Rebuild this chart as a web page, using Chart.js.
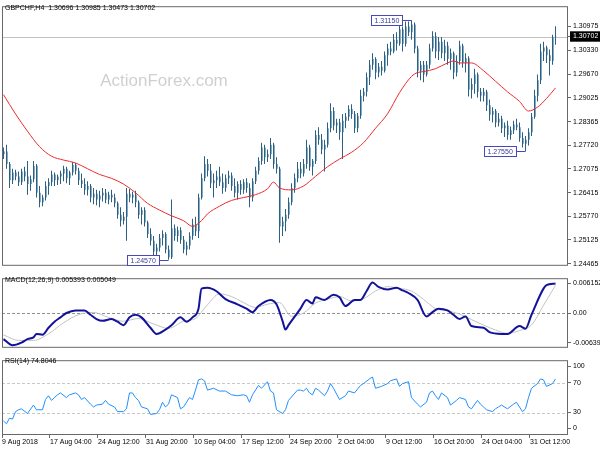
<!DOCTYPE html>
<html><head><meta charset="utf-8">
<script src="https://cdn.jsdelivr.net/npm/chart.js@4.4.1/dist/chart.umd.min.js"></script>
<style>
html,body{margin:0;padding:0;background:#fff;}
#wrap{position:relative;width:600px;height:450px;overflow:hidden;background:#fff;}
canvas{position:absolute;left:0;}
</style></head><body>
<div id="wrap">
<canvas id="cMain" width="600" height="272" style="top:0px"></canvas>
<canvas id="cMacd" width="600" height="82" style="top:272px"></canvas>
<canvas id="cRsi" width="600" height="96" style="top:354px"></canvas>
</div>
<script>
// ---------------- DATA ----------------
const symbol = 'GBPCHF,H4';
const watermark = 'ActionForex.com';
const dateLabels = ['9 Aug 2018','17 Aug 04:00','24 Aug 12:00','31 Aug 20:00','10 Sep 04:00','17 Sep 12:00','24 Sep 20:00','2 Oct 04:00','9 Oct 12:00','16 Oct 20:00','24 Oct 04:00','31 Oct 12:00'];
const barsPerLabel = 16;

const opens = [1.27468,1.27547,1.27204,1.26755,1.26966,1.26861,1.26702,1.26993,1.26861,1.26650,
1.26782,1.27151,1.26412,1.26148,1.26280,1.26597,1.26702,1.26914,1.26755,1.26861,
1.26940,1.27072,1.26808,1.26966,1.27178,1.27019,1.26755,1.26650,1.26491,1.26597,
1.26280,1.26386,1.26227,1.26333,1.26412,1.26227,1.26359,1.26280,1.26122,1.25805,
1.25646,1.25752,1.26386,1.26280,1.26359,1.26148,1.25805,1.25937,1.25594,1.25277,
1.25092,1.24802,1.24907,1.25171,1.25277,1.24854,1.24643,1.25435,1.25224,1.25382,
1.25118,1.24854,1.24960,1.25224,1.25541,1.25356,1.26280,1.26808,1.27204,1.27019,
1.26676,1.26755,1.26861,1.26702,1.26544,1.26808,1.26887,1.26597,1.26412,1.26650,
1.26491,1.26702,1.26544,1.26280,1.26729,1.27019,1.27283,1.27653,1.27389,1.27468,
1.27732,1.27204,1.27072,1.25488,1.25620,1.25805,1.26148,1.26544,1.26808,1.27072,
1.26940,1.27204,1.27653,1.27125,1.27283,1.27996,1.27864,1.27600,1.27732,1.28181,
1.28656,1.28260,1.28339,1.28075,1.28392,1.28498,1.28709,1.28577,1.28181,1.28524,
1.29078,1.29184,1.29580,1.29923,1.30082,1.29712,1.29870,1.29765,1.30187,1.30372,
1.30293,1.30610,1.30504,1.30900,1.30504,1.30979,1.30821,1.31032,1.30372,1.29765,
1.29923,1.29659,1.29923,1.30372,1.30715,1.30293,1.30557,1.30240,1.30451,1.30082,
1.30240,1.29712,1.30029,1.30451,1.29976,1.30108,1.29237,1.29395,1.29659,1.29184,
1.29078,1.29184,1.28814,1.28551,1.28656,1.28339,1.28445,1.28181,1.28260,1.27996,
1.28128,1.28286,1.28207,1.27917,1.27758,1.27864,1.28075,1.28498,1.29078,1.29501,
1.30293,1.30398,1.30187,1.30029,1.30696];

const highs = [1.27653,1.27732,1.27257,1.27072,1.27046,1.26993,1.27072,1.27125,1.27283,1.26887,
1.27283,1.27204,1.26597,1.26359,1.26729,1.26808,1.27019,1.26966,1.26914,1.27019,
1.27151,1.27125,1.27019,1.27257,1.27230,1.27098,1.26940,1.26808,1.26729,1.26650,
1.26544,1.26491,1.26465,1.26544,1.26518,1.26438,1.26491,1.26386,1.26174,1.26016,
1.25884,1.26544,1.26518,1.26438,1.26465,1.26201,1.26016,1.26016,1.25646,1.25435,
1.25224,1.25013,1.25277,1.25382,1.25330,1.24960,1.26227,1.25541,1.25488,1.25462,
1.25224,1.25066,1.25330,1.25699,1.25752,1.26386,1.26940,1.27415,1.27336,1.27204,
1.26940,1.27019,1.27125,1.26940,1.26914,1.27019,1.26966,1.26808,1.26729,1.26755,
1.26782,1.26808,1.26676,1.26808,1.27125,1.27389,1.27785,1.27732,1.27600,1.27917,
1.27785,1.27389,1.27125,1.25752,1.25963,1.26280,1.26676,1.26940,1.27257,1.27257,
1.27336,1.27864,1.27732,1.27336,1.28128,1.28207,1.28022,1.27864,1.28339,1.28867,
1.28762,1.28445,1.28445,1.28577,1.28603,1.28814,1.28841,1.28656,1.28603,1.29237,
1.29290,1.29712,1.30055,1.30240,1.30134,1.29976,1.30029,1.30293,1.30504,1.30557,
1.30768,1.30821,1.31032,1.30979,1.31111,1.31111,1.31150,1.31085,1.30451,1.30029,
1.30029,1.30029,1.30504,1.30847,1.30821,1.30689,1.30689,1.30610,1.30557,1.30372,
1.30293,1.30187,1.30583,1.30504,1.30240,1.30161,1.29554,1.29818,1.29712,1.29290,
1.29290,1.29237,1.28973,1.28762,1.28709,1.28603,1.28524,1.28339,1.28392,1.28234,
1.28392,1.28445,1.28339,1.28075,1.27970,1.28181,1.28603,1.29237,1.29659,1.30504,
1.30557,1.30451,1.30346,1.30750,1.30985];

const lows = [1.27336,1.27072,1.26544,1.26650,1.26755,1.26597,1.26623,1.26729,1.26359,1.26465,
1.26702,1.26280,1.26016,1.26042,1.26201,1.26359,1.26597,1.26597,1.26623,1.26650,
1.26729,1.26676,1.26623,1.26887,1.26914,1.26623,1.26544,1.26359,1.26333,1.26148,
1.26095,1.26069,1.26016,1.26174,1.26122,1.26095,1.26148,1.26016,1.25699,1.25488,
1.25541,1.25092,1.26148,1.26122,1.26016,1.25699,1.25541,1.25488,1.25171,1.24960,
1.24643,1.24590,1.24802,1.24960,1.24749,1.24570,1.24590,1.25092,1.25066,1.25013,
1.24749,1.24696,1.24854,1.25118,1.25224,1.25171,1.26227,1.26729,1.26861,1.26544,
1.26280,1.26544,1.26597,1.26386,1.26438,1.26650,1.26465,1.26280,1.26227,1.26359,
1.26386,1.26412,1.26016,1.26174,1.26650,1.26914,1.27178,1.27204,1.27257,1.27336,
1.27072,1.26940,1.25039,1.25224,1.25356,1.25699,1.26069,1.26412,1.26702,1.26808,
1.26861,1.27072,1.27019,1.26887,1.27204,1.27732,1.27468,1.26993,1.27653,1.28075,
1.28128,1.28049,1.27864,1.27336,1.28181,1.28392,1.28445,1.28049,1.28075,1.28445,
1.28920,1.29052,1.29369,1.29791,1.29527,1.29580,1.29633,1.29712,1.29897,1.30187,
1.30240,1.30319,1.30451,1.30293,1.30425,1.30715,1.30610,1.30240,1.29580,1.29501,
1.29448,1.29606,1.29818,1.30293,1.30108,1.30055,1.30108,1.30029,1.29923,1.29791,
1.29527,1.29606,1.29923,1.29844,1.29712,1.29052,1.28999,1.29131,1.29026,1.28920,
1.28920,1.28656,1.28392,1.28339,1.28207,1.28234,1.28049,1.27943,1.27864,1.27864,
1.28022,1.28128,1.27811,1.27653,1.27550,1.27706,1.27970,1.28445,1.28920,1.29395,
1.30029,1.29976,1.29633,1.29923,1.30473];

const closes = [1.27547,1.27204,1.26755,1.26966,1.26861,1.26702,1.26993,1.26861,1.26650,1.26782,
1.27151,1.26412,1.26148,1.26280,1.26597,1.26702,1.26914,1.26755,1.26861,1.26940,
1.27072,1.26808,1.26966,1.27178,1.27019,1.26755,1.26650,1.26491,1.26597,1.26280,
1.26386,1.26227,1.26333,1.26412,1.26227,1.26359,1.26280,1.26122,1.25805,1.25646,
1.25752,1.26386,1.26280,1.26359,1.26148,1.25805,1.25937,1.25594,1.25277,1.25092,
1.24802,1.24907,1.25171,1.25277,1.24854,1.24643,1.25435,1.25224,1.25382,1.25118,
1.24854,1.24960,1.25224,1.25541,1.25356,1.26280,1.26808,1.27204,1.27019,1.26676,
1.26755,1.26861,1.26702,1.26544,1.26808,1.26887,1.26597,1.26412,1.26650,1.26491,
1.26702,1.26544,1.26280,1.26729,1.27019,1.27283,1.27653,1.27389,1.27468,1.27732,
1.27204,1.27072,1.25488,1.25620,1.25805,1.26148,1.26544,1.26808,1.27072,1.26940,
1.27204,1.27653,1.27125,1.27283,1.27996,1.27864,1.27600,1.27732,1.28181,1.28656,
1.28260,1.28339,1.28075,1.28392,1.28498,1.28709,1.28577,1.28181,1.28524,1.29078,
1.29184,1.29580,1.29923,1.30082,1.29712,1.29870,1.29765,1.30187,1.30372,1.30293,
1.30610,1.30504,1.30900,1.30504,1.30979,1.30821,1.31032,1.30372,1.29765,1.29923,
1.29659,1.29923,1.30372,1.30715,1.30293,1.30557,1.30240,1.30451,1.30082,1.30240,
1.29712,1.30029,1.30451,1.29976,1.30108,1.29237,1.29395,1.29659,1.29184,1.29078,
1.29184,1.28814,1.28551,1.28656,1.28339,1.28445,1.28181,1.28260,1.27996,1.28128,
1.28286,1.28207,1.27917,1.27758,1.27864,1.28075,1.28498,1.29078,1.29501,1.30293,
1.30398,1.30187,1.30029,1.30696,1.30702];

// moving average (red)
const maIdx = [0,4,8,12,16,20,24,28,32,36,40,44,48,52,56,60,63,66,68,72,76,80,84,88,90,92,96,100,104,108,112,116,120,124,128,132,136,138,140,144,148,150,152,156,160,164,168,172,175,178,181,184];
const maVals = [1.29105,1.28577,1.28102,1.27679,1.27415,1.27310,1.27230,1.27072,1.26914,1.26808,1.26650,1.26412,1.26122,1.25937,1.25778,1.25646,1.25488,1.25646,1.25831,1.26042,1.26201,1.26280,1.26359,1.26518,1.26702,1.26544,1.26491,1.26597,1.26861,1.27125,1.27336,1.27521,1.27785,1.28181,1.28577,1.29158,1.29606,1.29712,1.29738,1.29818,1.29976,1.30029,1.29976,1.29976,1.29765,1.29474,1.29184,1.28920,1.28656,1.28762,1.28999,1.29290];

// MACD(12,26,9)
const macdIdx = [0,3,6,8,10,11,13,15,17,19,21,24,27,29,31,33,36,38,40,42,44,46,49,51,54,56,59,61,63,65,66,68,71,74,78,81,83,85,89,91,93,94,95,99,101,103,104,107,110,112,114,117,119,121,123,125,128,131,133,135,138,141,143,145,148,150,152,154,156,160,162,166,168,172,174,176,180,181,184];
const macdVals = [-0.004764,-0.005876,-0.005399,-0.004764,-0.004446,-0.003811,-0.003970,-0.002700,-0.001588,-0.000794,0,0.000476,0.000476,-0.000318,-0.001112,-0.001429,-0.001112,-0.001588,-0.002223,-0.000794,-0.000318,-0.000794,-0.002700,-0.003811,-0.003017,-0.002223,-0.000794,-0.001588,-0.000794,0.000794,0.004446,0.004605,0.003970,0.002541,0.001588,0.000794,0.000159,0.001270,0.002382,0.001588,-0.001429,-0.003017,-0.002223,0.000794,0.002382,0.001747,0.002858,0.002382,0.003335,0.002858,0.001270,0.002382,0.002382,0.003970,0.005558,0.004764,0.004288,0.004605,0.004129,0.003652,0.002382,-0.000635,0.000159,0.000794,0.000476,-0.000318,-0.001112,-0.000635,-0.002382,-0.002700,-0.003494,-0.003811,-0.003811,-0.002382,-0.002858,-0.000318,0.004446,0.005082,0.005393];
const sigIdx = [0,5,10,15,20,25,30,35,40,45,50,55,60,64,68,72,76,80,84,88,92,96,100,104,108,112,116,120,124,128,132,136,140,144,148,152,156,160,164,168,172,176,180,184];
const sigVals = [-0.0040,-0.0050,-0.0050,-0.0038,-0.0018,-0.0003,0.0001,-0.0008,-0.0015,-0.0010,-0.0020,-0.0028,-0.0015,-0.0010,0.0015,0.0035,0.0030,0.0019,0.0010,0.0016,0.0019,-0.0006,0.0000,0.0018,0.0025,0.0030,0.0022,0.0026,0.0040,0.0048,0.0045,0.0040,0.0025,0.0008,0.0004,-0.0002,-0.0012,-0.0022,-0.0031,-0.0037,-0.0032,-0.0022,0.0014,0.005049];

// RSI(14)
const rsiIdx = [0,1,2,3,4,5,6,8,10,11,13,14,15,16,18,19,21,22,24,25,26,27,29,30,31,33,34,35,37,38,40,41,42,43,44,45,46,48,49,51,52,53,54,55,56,58,59,60,62,63,64,65,66,67,68,70,72,74,76,78,80,81,82,83,85,86,88,89,90,91,93,94,95,98,99,100,101,102,103,104,105,107,108,109,110,112,114,115,117,119,120,122,123,124,126,128,129,131,132,133,135,136,138,139,141,142,143,144,145,146,148,149,151,152,154,155,156,158,159,160,161,163,164,165,166,168,170,171,173,174,175,176,178,179,180,181,183,184];
const rsiVals = [18.75,15.0,22.5,21.25,31.25,33.75,35.0,28.75,40.0,33.75,33.75,47.5,52.5,46.25,53.75,56.25,50.0,53.75,56.25,53.75,47.5,50.0,41.25,37.5,40.0,41.25,46.25,41.25,37.5,31.25,31.25,35.0,56.25,56.25,50.0,46.25,37.5,35.0,27.5,28.75,33.75,43.75,37.5,41.25,53.75,50.0,35.0,37.5,50.0,47.5,60.0,73.75,75.0,72.5,60.0,62.5,58.75,58.75,53.75,52.5,53.75,52.5,43.75,53.75,66.25,62.5,71.25,58.75,56.25,33.75,28.75,33.75,46.25,60.0,60.0,58.75,62.5,56.25,53.75,62.5,60.0,52.5,58.75,68.75,62.5,47.5,52.5,58.75,56.25,66.25,68.75,75.0,77.5,62.5,65.0,68.75,72.5,75.0,65.0,68.75,71.25,50.0,41.25,37.5,43.75,56.25,58.75,52.5,47.5,56.25,50.0,40.0,46.25,50.0,47.5,37.5,35.0,46.25,41.25,37.5,33.75,31.25,35.0,37.5,40.0,35.0,41.25,43.75,31.25,35.0,50.0,62.5,68.75,75.0,73.75,65.0,68.75,74.8046];

// axis ticks / levels
const priceTicks = [1.30975,1.30330,1.29670,1.29025,1.28365,1.27720,1.27075,1.26415,1.25770,1.25125,1.24465];
const priceRange = {min:1.24406, max:1.31534};
const macdTicks = [0.006152,0,-0.006396];
const macdRange = {min:-0.00635, max:0.00635};
const macdLevels = [0];
const rsiTicks = [100,70,30,0];
const rsiLevels = [70,30];
const xRange = {min:-0.5, max:188.17};

// marked extremes: bar index and which field
const markBars = [55,136,174];
const markKinds = ['low','high','low'];

// ---------------- RENDER ----------------
const FONT = '"Liberation Sans", Arial, sans-serif';
Chart.defaults.font.family = FONT;
Chart.defaults.font.size = 7;
Chart.defaults.color = '#000';
const FRAME = '#686868';
const last = closes.length - 1;
const lastClose = closes[last];

function pts(idx, vals){ return idx.map((k,j)=>({x:k, y:vals[j]})); }
function insetTicks(s, vals, pt, pb){
  const h = s.height || 80; const per = (s.max - s.min)/h;
  return vals.map(v => ({value: Math.min(s.max - pt*per, Math.max(s.min + pb*per, v))}));
}
function frame(chart){
  const {ctx, chartArea:a} = chart;
  ctx.save(); ctx.strokeStyle = FRAME; ctx.lineWidth = 1;
  ctx.strokeRect(a.left+0.5, a.top+0.5, a.width-1, a.height-1);
  ctx.restore();
}
function levels(chart, vals, color){
  const {ctx, chartArea:a, scales:{y}} = chart;
  ctx.save(); ctx.strokeStyle = color; ctx.lineWidth = 1; ctx.setLineDash([3,2]);
  vals.forEach(v => { const py = Math.round(y.getPixelForValue(v)) + 0.5;
    ctx.beginPath(); ctx.moveTo(a.left, py); ctx.lineTo(a.right, py); ctx.stroke(); });
  ctx.restore();
}
function label(chart, text, x, y){
  const ctx = chart.ctx; ctx.save(); ctx.font = '7px ' + FONT; ctx.fillStyle = '#000';
  ctx.textAlign = 'left'; ctx.textBaseline = 'middle'; ctx.fillText(text, x, y); ctx.restore();
}
function xScale(show, shift){
  const s = {type:'linear', min:xRange.min - (shift||0), max:xRange.max - (shift||0), offset:false, display:show,
    grid:{offset:false, drawOnChartArea:false}, border:{display:false}};
  if (show) {
    Object.assign(s, {
      position:'bottom',
      afterBuildTicks: sc => { sc.ticks = dateLabels.map((_,k)=>({value: k*barsPerLabel + xRange.min})); },
      afterFit: sc => { sc.height = 15; },
      ticks:{autoSkip:false, maxRotation:0, minRotation:0, align:'start', padding:0,
        callback:(v,i)=>dateLabels[i], font:{size:7}, color:'#000'},
      grid:{offset:false, drawOnChartArea:false, drawTicks:true, tickLength:3, color:FRAME}
    });
  }
  return s;
}
const common = {responsive:false, animation:false, devicePixelRatio:1, events:[],
  plugins:{legend:{display:false}, tooltip:{enabled:false}}};

// ---- main price chart ----
new Chart(document.getElementById('cMain'), {
  type:'bar',
  data:{datasets:[
    {type:'line', data:pts(maIdx, maVals), borderColor:'#ee2a2a', borderWidth:1, pointRadius:0,
      cubicInterpolationMode:'monotone', fill:false, order:0},
    {type:'bar', data:highs.map((h,i)=>({x:i, y:[lows[i], h]})), backgroundColor:'#2c5f80',
      barThickness:1, grouped:false, borderWidth:0, inflateAmount:0, order:1},
    {type:'bar', xAxisID:'xb', data:opens.map((o,i)=>({x:i, y:[o, closes[i]]})), backgroundColor:'#86abc3',
      barThickness:2, grouped:false, borderWidth:0, inflateAmount:0, order:2}
  ]},
  options:Object.assign({}, common, {
    layout:{padding:{left:2, right:0, top:1, bottom:1}},
    scales:{
      x: xScale(false),
      xb: xScale(false, 1/6),
      y:{type:'linear', position:'right', min:priceRange.min, max:priceRange.max,
        afterBuildTicks: s => { s.ticks = priceTicks.concat([lastClose]).sort((a,b)=>a-b).map(v=>({value:v})); },
        afterFit: s => { s.width = 32; },
        ticks:{autoSkip:false, padding:2, callback: v => Number(v).toFixed(5),
          color: c => (c.tick && c.tick.value === lastClose) ? '#fff' : '#000',
          showLabelBackdrop: c => !!(c.tick && c.tick.value === lastClose),
          backdropColor:'#000', backdropPadding:{top:1, bottom:1, left:3, right:10}},
        grid:{drawOnChartArea:false, drawTicks:true, tickLength:3, color:FRAME},
        border:{display:false}}
    }
  }),
  plugins:[{
    id:'mainDeco',
    beforeDatasetsDraw(chart){
      const {ctx, chartArea:a, scales:{y}} = chart;
      ctx.save();
      ctx.font = '17px ' + FONT; ctx.fillStyle = '#d0d0d0'; ctx.textAlign = 'center'; ctx.textBaseline = 'middle';
      ctx.fillText(watermark, 164, 81);
      const py = Math.round(y.getPixelForValue(lastClose)) + 0.5;
      ctx.strokeStyle = '#c3c3c3'; ctx.lineWidth = 1;
      ctx.beginPath(); ctx.moveTo(a.left, py); ctx.lineTo(a.right, py); ctx.stroke();
      ctx.restore();
    },
    afterDraw(chart){
      const {ctx, scales:{x, y}} = chart;
      frame(chart);
      label(chart, symbol + '  ' + [opens[last], highs[last], lows[last], closes[last]].map(v=>v.toFixed(5)).join(' '), 5, 8);
      ctx.save(); ctx.font = '7px ' + FONT; ctx.textBaseline = 'middle'; ctx.textAlign = 'left';
      markBars.forEach((b, j) => {
        const v = markKinds[j] === 'high' ? highs[b] : lows[b];
        const t = v.toFixed(5);
        const bx = Math.round(x.getPixelForValue(b)) + 0.5;
        const by = Math.round(y.getPixelForValue(v)) + 0.5;
        const w = Math.ceil(ctx.measureText(t).width) + 6, h = 10;
        const right = bx - 9;
        ctx.fillStyle = '#ffffff'; ctx.fillRect(right - w, by - h/2, w, h);
        ctx.strokeStyle = '#4848b8'; ctx.lineWidth = 1; ctx.strokeRect(right - w, by - h/2, w, h);
        ctx.beginPath(); ctx.moveTo(right, by); ctx.lineTo(bx, by); ctx.stroke();
        ctx.fillStyle = '#3a3a9c'; ctx.fillText(t, right - w + 3, by + 0.5);
      });
      ctx.restore();
    }
  }]
});

// ---- MACD chart ----
new Chart(document.getElementById('cMacd'), {
  type:'line',
  data:{datasets:[
    {data:pts(macdIdx, macdVals), borderColor:'#12129a', borderWidth:2, pointRadius:0, cubicInterpolationMode:'monotone', fill:false, order:0},
    {data:pts(sigIdx, sigVals), borderColor:'#c2c2c2', borderWidth:1, pointRadius:0, cubicInterpolationMode:'monotone', fill:false, order:1}
  ]},
  options:Object.assign({}, common, {
    layout:{padding:{left:2, right:0, top:1, bottom:1}},
    scales:{
      x: xScale(false),
      y:{type:'linear', position:'right', min:macdRange.min, max:macdRange.max,
        afterBuildTicks: s => { s.ticks = insetTicks(s, macdTicks, 6, 6); },
        afterFit: s => { s.width = 32; },
        ticks:{autoSkip:false, padding:2, color:'#000',
          callback:(v,i) => macdTicks[i] === 0 ? '0.00' : macdTicks[i].toFixed(6)},
        grid:{drawOnChartArea:false, drawTicks:true, tickLength:3, color:FRAME},
        border:{display:false}}
    }
  }),
  plugins:[{
    id:'macdDeco',
    beforeDatasetsDraw(chart){ levels(chart, macdLevels, '#8f8f8f'); },
    afterDraw(chart){
      frame(chart);
      label(chart, 'MACD(12,26,9) ' + macdVals[macdVals.length-1].toFixed(6) + ' ' + sigVals[sigVals.length-1].toFixed(6), 5, 8);
    }
  }]
});

// ---- RSI chart ----
new Chart(document.getElementById('cRsi'), {
  type:'line',
  data:{datasets:[
    {data:pts(rsiIdx, rsiVals), borderColor:'#2090ff', borderWidth:1, pointRadius:0, tension:0, fill:false}
  ]},
  options:Object.assign({}, common, {
    layout:{padding:{left:2, right:0, top:1, bottom:0}},
    scales:{
      x: xScale(true),
      y:{type:'linear', position:'right', min:0, max:100,
        afterBuildTicks: s => { s.ticks = insetTicks(s, rsiTicks, 6, 7); },
        afterFit: s => { s.width = 32; },
        ticks:{autoSkip:false, padding:2, color:'#000', callback:(v,i) => String(rsiTicks[i])},
        grid:{drawOnChartArea:false, drawTicks:true, tickLength:3, color:FRAME},
        border:{display:false}}
    }
  }),
  plugins:[{
    id:'rsiDeco',
    beforeDatasetsDraw(chart){ levels(chart, rsiLevels, '#c8c8c8'); },
    afterDraw(chart){
      frame(chart);
      label(chart, 'RSI(14) ' + rsiVals[rsiVals.length-1].toFixed(4), 5, 7);
    }
  }]
});
</script>
</body></html>
